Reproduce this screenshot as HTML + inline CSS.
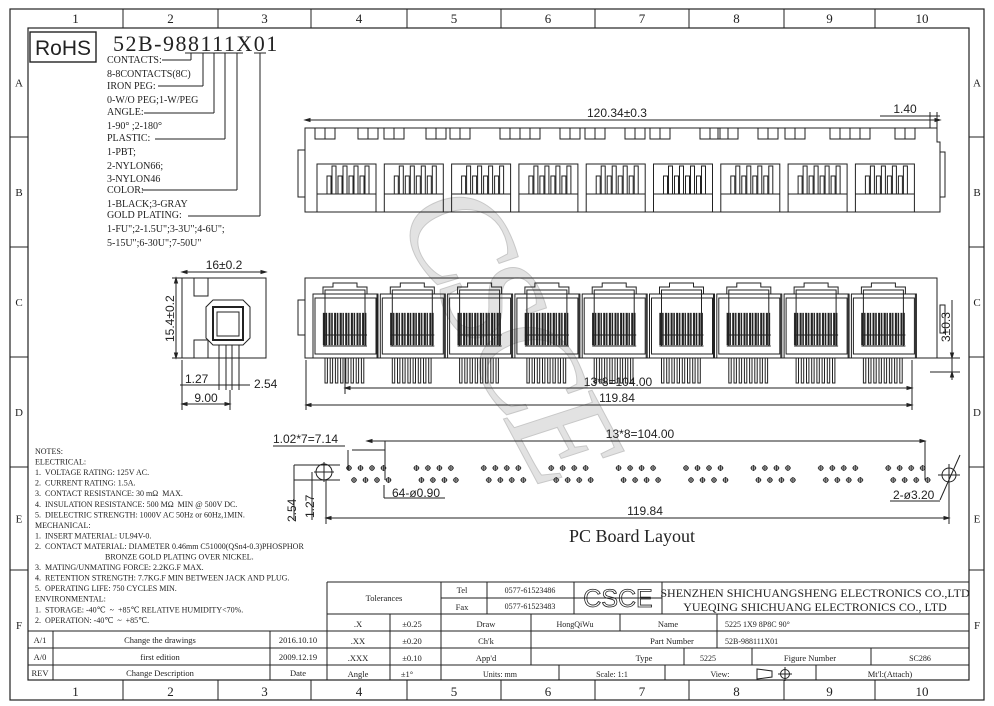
<!DOCTYPE html>
<html><head><meta charset="utf-8">
<style>
html,body{margin:0;padding:0;background:#fff;}
svg{display:block;}
text{font-family:"Liberation Serif",serif;fill:#222;}
.s{font-family:"Liberation Sans",sans-serif;}
</style></head>
<body>
<svg id="d" width="994" height="706" viewBox="0 0 994 706" xmlns="http://www.w3.org/2000/svg" stroke-linecap="butt">
<g id="frame" fill="none" stroke="#222" stroke-width="1.2">
<rect x="10" y="9" width="974" height="691"/>
<rect x="28" y="28" width="941" height="652"/>
</g>
<text x="0" y="0" transform="translate(395,215) rotate(62)" font-size="140" style="font-family:'Liberation Serif',serif;font-style:italic;letter-spacing:-8px;fill:#e2e2e2;stroke:#c8c8c8;stroke-width:1">CSCE</text>
<g id="g" stroke="#222" fill="none" stroke-width="1"></g>
<g id="t"></g>
</svg>
<script>
const G=document.getElementById('g'),T=document.getElementById('t'),NS='http://www.w3.org/2000/svg';
function el(p,tag,a,txt){const e=document.createElementNS(NS,tag);for(const k in a)e.setAttribute(k,a[k]);if(txt!==undefined)e.textContent=txt;p.appendChild(e);return e;}
function L(x1,y1,x2,y2,w){el(G,'line',{x1,y1,x2,y2,'stroke-width':w||1});}
function R(x,y,w,h,f,sw){el(G,'rect',{x,y,width:w,height:h,fill:f||'none','stroke-width':sw||1});}
function P(d,f){el(G,'path',{d,fill:f||'none'});}
function X(x,y,s,txt,o){o=o||{};const a={x,y,'font-size':s};if(o.a)a['text-anchor']=o.a;if(o.c)a['class']=o.c;if(o.tr)a.transform=o.tr;if(o.w)a['font-weight']=o.w;if(o.ls)a['letter-spacing']=o.ls;return el(T,'text',a,txt);}
function arr(x,y,dir){
 const s=5;let d;
 if(dir=='r')d=`M${x},${y} l${-s},-1.5 l0,3 z`;if(dir=='l')d=`M${x},${y} l${s},-1.5 l0,3 z`;
 if(dir=='u')d=`M${x},${y} l-1.5,${s} l3,0 z`;if(dir=='d')d=`M${x},${y} l-1.5,${-s} l3,0 z`;
 el(G,'path',{d,fill:'#222'});}
const cols=[28,123,218,311,407,501,595,689,784,875,969];
for(let i=1;i<10;i++){L(cols[i],9,cols[i],28);L(cols[i],680,cols[i],700);}
for(let i=0;i<10;i++){const cx=(cols[i]+cols[i+1])/2;X(cx,23,13,String(i+1),{a:'middle'});X(cx,696,13,String(i+1),{a:'middle'});}
const rows=[28,137,247,357,467,570,680];
for(let i=1;i<6;i++){L(10,rows[i],28,rows[i]);L(969,rows[i],984,rows[i]);}
'ABCDEF'.split('').forEach((c,i)=>{const cy=(rows[i]+rows[i+1])/2+4;X(19,cy,11,c,{a:'middle'});X(977,cy,11,c,{a:'middle'});});
R(30,32,66,30,'none',1.4);X(63,55,21,'RoHS',{a:'middle',c:'s'});
X(113,51,22,'52B-988111X01',{ls:'1.5'});
const lab=[['CONTACTS:',63],['8-8CONTACTS(8C)',77],['IRON PEG:',89],['0-W/O PEG;1-W/PEG',103],['ANGLE:',115],['1-90° ;2-180°',129],['PLASTIC:',141],['1-PBT;',155],['2-NYLON66;',169],['3-NYLON46',182],['COLOR:',193],['1-BLACK;3-GRAY',207],['GOLD PLATING:',218],['1-FU";2-1.5U";3-3U";4-6U";',232],['5-15U";6-30U";7-50U"',246]];
lab.forEach(l=>X(107,l[1],10,l[0]));
const ld=[[191,60,162],[203,86,158],[214,113,144],[225,139,155],[237,190,142],[260,216,188]];
ld.forEach(v=>{L(v[0],53,v[0],v[1]);L(v[2],v[1],v[0],v[1]);L(v[0]-6,53,v[0]+6,53);});
L(305,120,940,120);arr(305,120,'l');arr(940,120,'r');X(617,117,12,'120.34±0.3',{a:'middle',c:'s'});
L(880,116,940,116);X(905,113,12,'1.40',{a:'middle',c:'s'});L(930,112,930,128);L(937,112,937,128);
P('M305,128 L937,128 L937,142 L940,142 L940,212 L305,212 Z');
R(298,150,7,47);R(940,152,5,45);
const tabs=[315,358,384,426,450,500,520,560,585,625,650,700,718,758,785,830,850,895];
tabs.forEach(x=>{R(x,128,10,11);R(x+10,128,10,11);});
for(let i=0;i<9;i++){const x=317+i*67.3;
 P(`M${x},212 L${x},164 L${x+59},164 L${x+59},212`);L(x,194,x+59,194);
 for(let k=0;k<4;k++){const fx=x+10+k*11;R(fx,176,4,18);R(fx+5,166,4,28);}
}
P('M305,278 L937,278 L937,358 L305,358 Z');R(298,300,7,35);R(940,305,5,28);
for(let i=0;i<9;i++){const c=345+i*67.3;
 R(c-32,294,65,64);R(c-30,298,61,56);
 P(`M${c-22},294 L${c-22},287 L${c-12},287 L${c-12},283 L${c+12},283 L${c+12},287 L${c+22},287 L${c+22},294`);
 R(c-20,290,40,56);
 for(let k=0;k<16;k++){const bx=c-22+k*2.8;R(bx,313,k%2?1.2:1.8,32,'#222',0.3);}
 L(c-22,335,c+22,335);L(c-22,346,c+22,346);
 for(let k=0;k<8;k++){R(c-20+k*5.2,358,2.4,25);}
 L(c+32,294,c+32,358);
}
L(345,358,345,394);
L(345,388,912,388);arr(345,388,'l');arr(912,388,'r');X(618,386,12,'13*8=104.00',{a:'middle',c:'s'});
L(306,360,306,410);L(912,360,912,410);L(306,405,912,405);arr(306,405,'l');arr(912,405,'r');X(617,402,12,'119.84',{a:'middle',c:'s'});
L(952,300,952,380);L(930,358,960,358);L(930,372,960,372);arr(952,358,'d');arr(952,372,'u');
X(0,0,12,'3±0.3',{c:'s',tr:'translate(950,342) rotate(-90)'});
R(182,278,84,80);R(194,278,14,18);R(194,340,14,18);
P('M213,300 L243,300 L250,307 L250,338 L243,345 L213,345 L206,338 L206,307 Z');
R(213,307,30,33,'none',2);R(217,312,22,24);
P('M219,345 L219,390 M226,345 L226,390 M232,345 L232,390 M239,345 L239,390');
L(182,272,266,272);arr(182,272,'l');arr(266,272,'r');X(224,269,12,'16±0.2',{a:'middle',c:'s'});
L(176,278,176,358);L(172,278,182,278);L(172,358,182,358);arr(176,278,'u');arr(176,358,'d');
X(0,0,12,'15.4±0.2',{c:'s',tr:'translate(174,342) rotate(-90)'});
L(180,385,216,385);X(185,383,12,'1.27',{c:'s'});L(216,385,250,385);X(254,388,12,'2.54',{c:'s'});
L(182,360,182,410);L(230,390,230,410);L(182,404,230,404);arr(182,404,'l');arr(230,404,'r');X(206,402,12,'9.00',{a:'middle',c:'s'});
X(273,443,12,'1.02*7=7.14',{c:'s'});L(273,446,345,446);
L(367,441,925,441);arr(367,441,'l');arr(925,441,'r');X(640,438,12,'13*8=104.00',{a:'middle',c:'s'});
L(348,450,348,470);L(385,441,385,480);L(352,450,385,450);
L(925,441,925,480);
el(G,'circle',{cx:324,cy:472,r:8});L(314,472,334,472);L(324,462,324,482);
el(G,'circle',{cx:949,cy:475,r:7});L(938,475,960,475);L(949,464,949,486);L(940,500,960,455);
L(294,465,340,465);L(294,480,340,480);L(294,465,294,520);L(312,472,312,520);
X(0,0,12,'2.54',{c:'s',tr:'translate(296,522) rotate(-90)'});X(0,0,12,'1.27',{c:'s',tr:'translate(314,518) rotate(-90)'});
for(let i=0;i<9;i++){const b=349+i*67.4;for(let k=0;k<4;k++){
 [[b+k*11.5,468],[b+5+k*11.5,480]].forEach(p=>{el(G,'circle',{cx:p[0],cy:p[1],r:2.2,'stroke-width':0.9});L(p[0]-3,p[1],p[0]+3,p[1],0.8);L(p[0],p[1]-3,p[0],p[1]+3,0.8);});}}
L(326,480,326,524);L(949,485,949,524);L(326,518,949,518);arr(326,518,'l');arr(949,518,'r');X(645,515,12,'119.84',{a:'middle',c:'s'});
L(384,485,384,498);L(384,498,445,498);X(392,497,12,'64-ø0.90',{c:'s'});
L(890,501,940,501);X(893,499,12,'2-ø3.20',{c:'s'});
X(632,542,18,'PC  Board  Layout',{a:'middle'});
const notes=['NOTES:','ELECTRICAL:','1.  VOLTAGE RATING: 125V AC.','2.  CURRENT RATING: 1.5A.','3.  CONTACT RESISTANCE: 30 mΩ  MAX.','4.  INSULATION RESISTANCE: 500 MΩ  MIN @ 500V DC.','5.  DIELECTRIC STRENGTH: 1000V AC 50Hz or 60Hz,1MIN.','MECHANICAL:','1.  INSERT MATERIAL: UL94V-0.','2.  CONTACT MATERIAL: DIAMETER 0.46mm C51000(QSn4-0.3)PHOSPHOR','                                   BRONZE GOLD PLATING OVER NICKEL.','3.  MATING/UNMATING FORCE: 2.2KG.F MAX.','4.  RETENTION STRENGTH: 7.7KG.F MIN BETWEEN JACK AND PLUG.','5.  OPERATING LIFE: 750 CYCLES MIN.','ENVIRONMENTAL:','1.  STORAGE: -40℃  ~  +85℃ RELATIVE HUMIDITY<70%.','2.  OPERATION: -40℃  ~  +85℃.'];
notes.forEach((n,i)=>{const t=X(35,454+i*10.55,8,n);t.style.whiteSpace='pre';});
L(28,631,327,631);L(28,648,327,648);L(28,665,327,665);L(53,631,53,680);L(270,631,270,680);L(327,582,327,680);
X(40,643,8.5,'A/1',{a:'middle'});X(160,643,8.5,'Change the drawings',{a:'middle'});X(298,643,8.5,'2016.10.10',{a:'middle'});
X(40,660,8.5,'A/0',{a:'middle'});X(160,660,8.5,'first edition',{a:'middle'});X(298,660,8.5,'2009.12.19',{a:'middle'});
X(40,676,8.5,'REV',{a:'middle'});X(160,676,8.5,'Change Description',{a:'middle'});X(298,676,8.5,'Date',{a:'middle'});
L(327,582,969,582);L(441,598,662,598);L(327,614,969,614);L(327,631,969,631);L(327,648,969,648);L(327,665,969,665);
L(441,582,441,680);L(487,582,487,614);L(574,582,574,614);L(662,582,662,614);
L(390,614,390,680);L(531,614,531,665);L(620,614,620,631);L(717,614,717,648);
L(684,648,684,665);L(752,648,752,665);L(871,648,871,665);
L(559,665,559,680);L(665,665,665,680);L(816,665,816,680);
X(384,601,8.5,'Tolerances',{a:'middle'});X(462,593,8.5,'Tel',{a:'middle'});X(462,610,8.5,'Fax',{a:'middle'});
X(530,593,8,'0577-61523486',{a:'middle'});X(530,609,8,'0577-61523483',{a:'middle'});
const cs=X(618,607,25,'CSCE',{a:'middle',c:'s'});cs.style.fill='none';cs.style.stroke='#222';cs.style.strokeWidth='0.8';
X(815,597,12,'SHENZHEN SHICHUANGSHENG ELECTRONICS CO.,LTD',{a:'middle'});X(815,611,12,'YUEQING SHICHUANG ELECTRONICS CO., LTD',{a:'middle'});
X(358,627,8.5,'.X',{a:'middle'});X(412,627,8.5,'±0.25',{a:'middle'});X(486,627,8.5,'Draw',{a:'middle'});X(575,627,8,'HongQiWu',{a:'middle'});X(668,627,8.5,'Name',{a:'middle'});X(725,627,8,"5225 1X9 8P8C 90°");
X(358,644,8.5,'.XX',{a:'middle'});X(412,644,8.5,'±0.20',{a:'middle'});X(486,644,8.5,"Ch'k",{a:'middle'});X(672,644,8.5,'Part Number',{a:'middle'});X(725,644,8,'52B-988111X01');
X(358,661,8.5,'.XXX',{a:'middle'});X(412,661,8.5,'±0.10',{a:'middle'});X(486,661,8.5,"App'd",{a:'middle'});X(644,661,8.5,'Type',{a:'middle'});X(708,661,8,'5225',{a:'middle'});X(810,661,8.5,'Figure Number',{a:'middle'});X(920,661,8,'SC286',{a:'middle'});
X(358,677,8.5,'Angle',{a:'middle'});X(407,677,8.5,'±1°',{a:'middle'});X(500,677,8,'Units: mm',{a:'middle'});X(612,677,8,'Scale: 1:1',{a:'middle'});X(720,677,8,'View:',{a:'middle'});X(890,677,8.5,"Mt'l:(Attach)",{a:'middle'});
P('M757,669 L772,671 L772,677 L757,679 Z');el(G,'circle',{cx:785,cy:674,r:4.5});L(778,674,792,674);L(785,667,785,681);
</script>
</body></html>
